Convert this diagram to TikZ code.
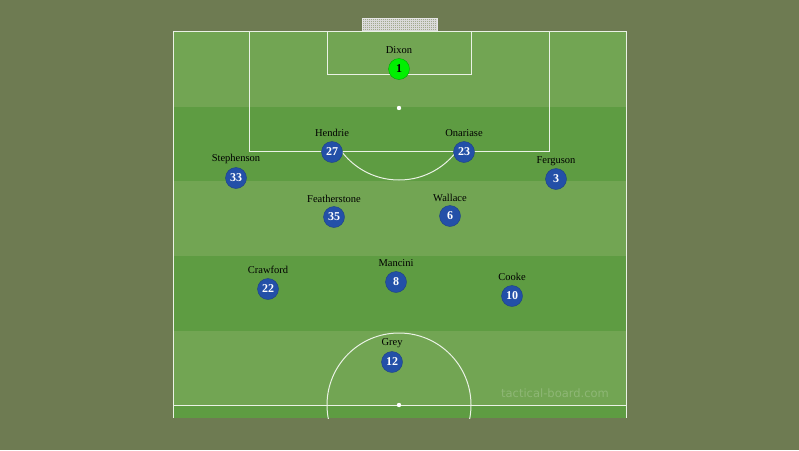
\documentclass[tikz,border=0pt]{standalone}
\usepackage{fontspec}
\setmainfont{Liberation Serif}
\newfontfamily\markfont{DejaVu Sans}
\definecolor{around}{HTML}{6E7B52}
\definecolor{lightgrass}{HTML}{72A553}
\definecolor{darkgrass}{HTML}{5E9C42}
\definecolor{shirt}{HTML}{2350A8}
\definecolor{keeper}{HTML}{00F000}
\tikzset{
  player/.style={circle, fill=shirt, draw=shirt!80!black, minimum size=21pt, inner sep=0pt,
    text=white, font=\fontsize{12}{12}\selectfont\bfseries},
  keepertoken/.style={player, fill=keeper, draw=keeper!70!black, text=black},
  playername/.style={font=\fontsize{10.5}{10.5}\selectfont, text=black, inner sep=0pt},
  pitchline/.style={draw=white!85!lightgrass, line width=1pt}
}
\begin{document}
\begin{tikzpicture}[x=1pt, y=-1pt]
\useasboundingbox (0,0) rectangle (799,450);
\fill[around] (0,0) rectangle (799,450);
% stripes
\fill[lightgrass] (173,31) rectangle (626,107);
\fill[darkgrass] (173,107) rectangle (626,181);
\fill[lightgrass] (173,181) rectangle (626,256);
\fill[darkgrass] (173,256) rectangle (626,331);
\fill[lightgrass] (173,331) rectangle (626,405);
\fill[darkgrass] (173,405) rectangle (626,418);
% goal
\fill[white, opacity=0.35] (362,18) rectangle (437,31);
\draw[white!70!gray, line width=0.3pt] (362,18) grid[step=2pt] (437,31);
\draw[white!80!gray, line width=0.8pt] (362,31) -- (362,18) -- (437,18) -- (437,31);
% lines
\draw[pitchline] (173,418) -- (173,31) -- (626,31) -- (626,418);
\draw[pitchline] (249,31) rectangle (549,151);
\draw[pitchline] (327,31) rectangle (471,74);
\draw[pitchline] (173,405) -- (626,405);
\begin{scope}
\clip (173,31) rectangle (626,418);
\draw[pitchline] (399,405) circle (72pt);
\end{scope}
\begin{scope}
\clip (249,151) rectangle (549,260);
\draw[pitchline] (399,108) circle (72pt);
\end{scope}
\fill[white] (399,108) circle (2.2pt);
\fill[white] (399,405) circle (2.2pt);
% watermark
\node[font=\markfont\fontsize{11.5}{11.5}\selectfont, text=white, opacity=0.2] (mark) at (555,393) {tactical-board.com};
% players
\node[keepertoken] (dixon) at (399,69) {1};
\node[playername] at (399,50) {Dixon};
\node[player] (hendrie) at (332,152) {27};
\node[playername] at (332,133) {Hendrie};
\node[player] (onariase) at (464,152) {23};
\node[playername] at (464,133) {Onariase};
\node[player] (stephenson) at (236,178) {33};
\node[playername] at (236,159) {Stephenson};
\node[player] (ferguson) at (556,179) {3};
\node[playername] at (556,161) {Ferguson};
\node[player] (featherstone) at (334,217) {35};
\node[playername] at (334,199) {Featherstone};
\node[player] (wallace) at (450,216) {6};
\node[playername] at (450,198) {Wallace};
\node[player] (crawford) at (268,289) {22};
\node[playername] at (268,270) {Crawford};
\node[player] (mancini) at (396,282) {8};
\node[playername] at (396,263) {Mancini};
\node[player] (cooke) at (512,296) {10};
\node[playername] at (512,277) {Cooke};
\node[player] (grey) at (392,362) {12};
\node[playername] at (392,343) {Grey};
\end{tikzpicture}
\end{document}
